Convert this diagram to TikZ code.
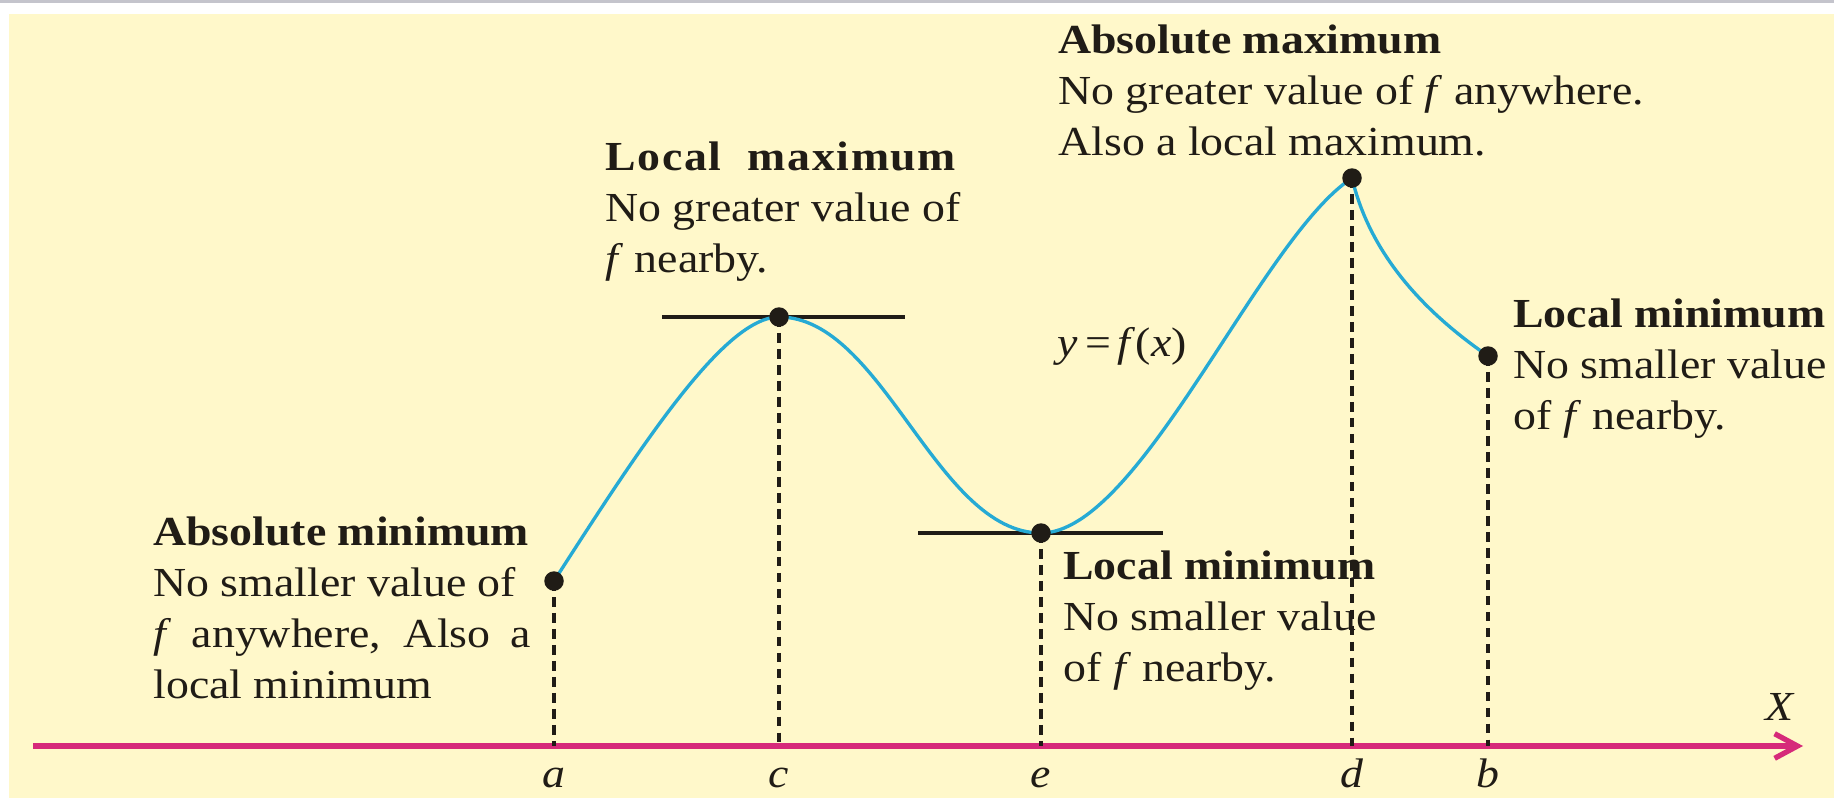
\documentclass[tikz,border=0pt]{standalone}
\usepackage{fontspec}
\setmainfont{Liberation Serif}[FakeStretch=1.11]
\usetikzlibrary{arrows.meta,positioning}
\definecolor{paper}{RGB}{255,248,202}
\definecolor{rim}{RGB}{196,196,204}
\definecolor{ink}{RGB}{32,28,22}
\definecolor{curveblue}{RGB}{38,170,212}
\definecolor{axispink}{RGB}{214,42,122}

\begin{document}
\begin{tikzpicture}[x=0.02cm,y=-0.02cm,
    lbl/.style={text=ink,inner sep=0pt,font=\fontsize{23.5}{29}\selectfont},
    note/.style={lbl,anchor=base west,align=left},
    dotpt/.style={circle,fill=ink,inner sep=0pt,minimum size=3.9mm},
    dropline/.style={ink,line width=1.9pt,dash pattern=on 5.5pt off 3.6pt},
    tangent/.style={ink,line width=2.3pt},
    graph/.style={curveblue,line width=1.9pt}]
  \useasboundingbox (0,0) rectangle (1834,798);
  \fill[white] (0,0) rectangle (1834,798);
  \fill[paper] (9,14) rectangle (1834,798);
  \fill[rim] (0,0) rectangle (1834,2.5);

  \foreach \n/\x/\y in {a/554/581,c/779/317,e/1041/533,d/1352/178,b/1488/356}{
    \coordinate (k\n) at (\x,\y);
    \coordinate (f\n) at (\x,746);
  }
  \coordinate (x0) at (33,746);
  \coordinate (x1) at (1803,746);
  \draw[axispink,line width=3pt,-{Straight Barb[length=13pt,width=14pt]}] (x0) -- (x1);

  \node[note] (absmax) at (1058,155) {\textbf{Absolute maximum}\\No greater value of \textit{f} anywhere.\\Also a local maximum.};
  \node[note] (locmax) at (605,272) {\textbf{\addfontfeature{LetterSpace=4}Local\ \ maximum}\\No greater value of\\\textit{f} nearby.};
  \node[note] (absmin) at (153,698) {\textbf{Absolute minimum}\\No smaller value of\\\makebox[7.56cm][s]{\textit{f} anywhere, Also a}\\local minimum};
  \node[note] (locmine) at (1063,681) {\textbf{Local minimum}\\No smaller value\\of \textit{f} nearby.};
  \node[note] (locminb) at (1513,429) {\textbf{Local minimum}\\No smaller value\\of \textit{f} nearby.};
  \node[lbl,anchor=base east] (fx) at (1187,356) {\textit{y}\,=\,\textit{f}(\textit{x})};
  \node[lbl,anchor=base] (xlab) at (1780,720) {\textit{X}};

  \foreach \n in {a,c,e,d,b}
    \draw[dropline] (k\n) -- (f\n);
  \draw[tangent] ([xshift=-2.34cm]kc) -- ([xshift=2.52cm]kc);
  \draw[tangent] ([xshift=-2.46cm]ke) -- ([xshift=2.44cm]ke);
  \draw[graph] (ka) .. controls (644,441) and (725,317) .. (kc)
    .. controls (883,317) and (936,533) .. (ke)
    .. controls (1140,533) and (1260,238) .. (kd)
    .. controls (1368,246) and (1414,305) .. (kb);
  \foreach \n in {a,c,e,d,b}{
    \node[dotpt] (p\n) at (k\n) {};
    \node[lbl,anchor=base] (t\n) at ([yshift=-0.82cm]f\n) {\textit{\n}};
  }
\end{tikzpicture}
\end{document}
